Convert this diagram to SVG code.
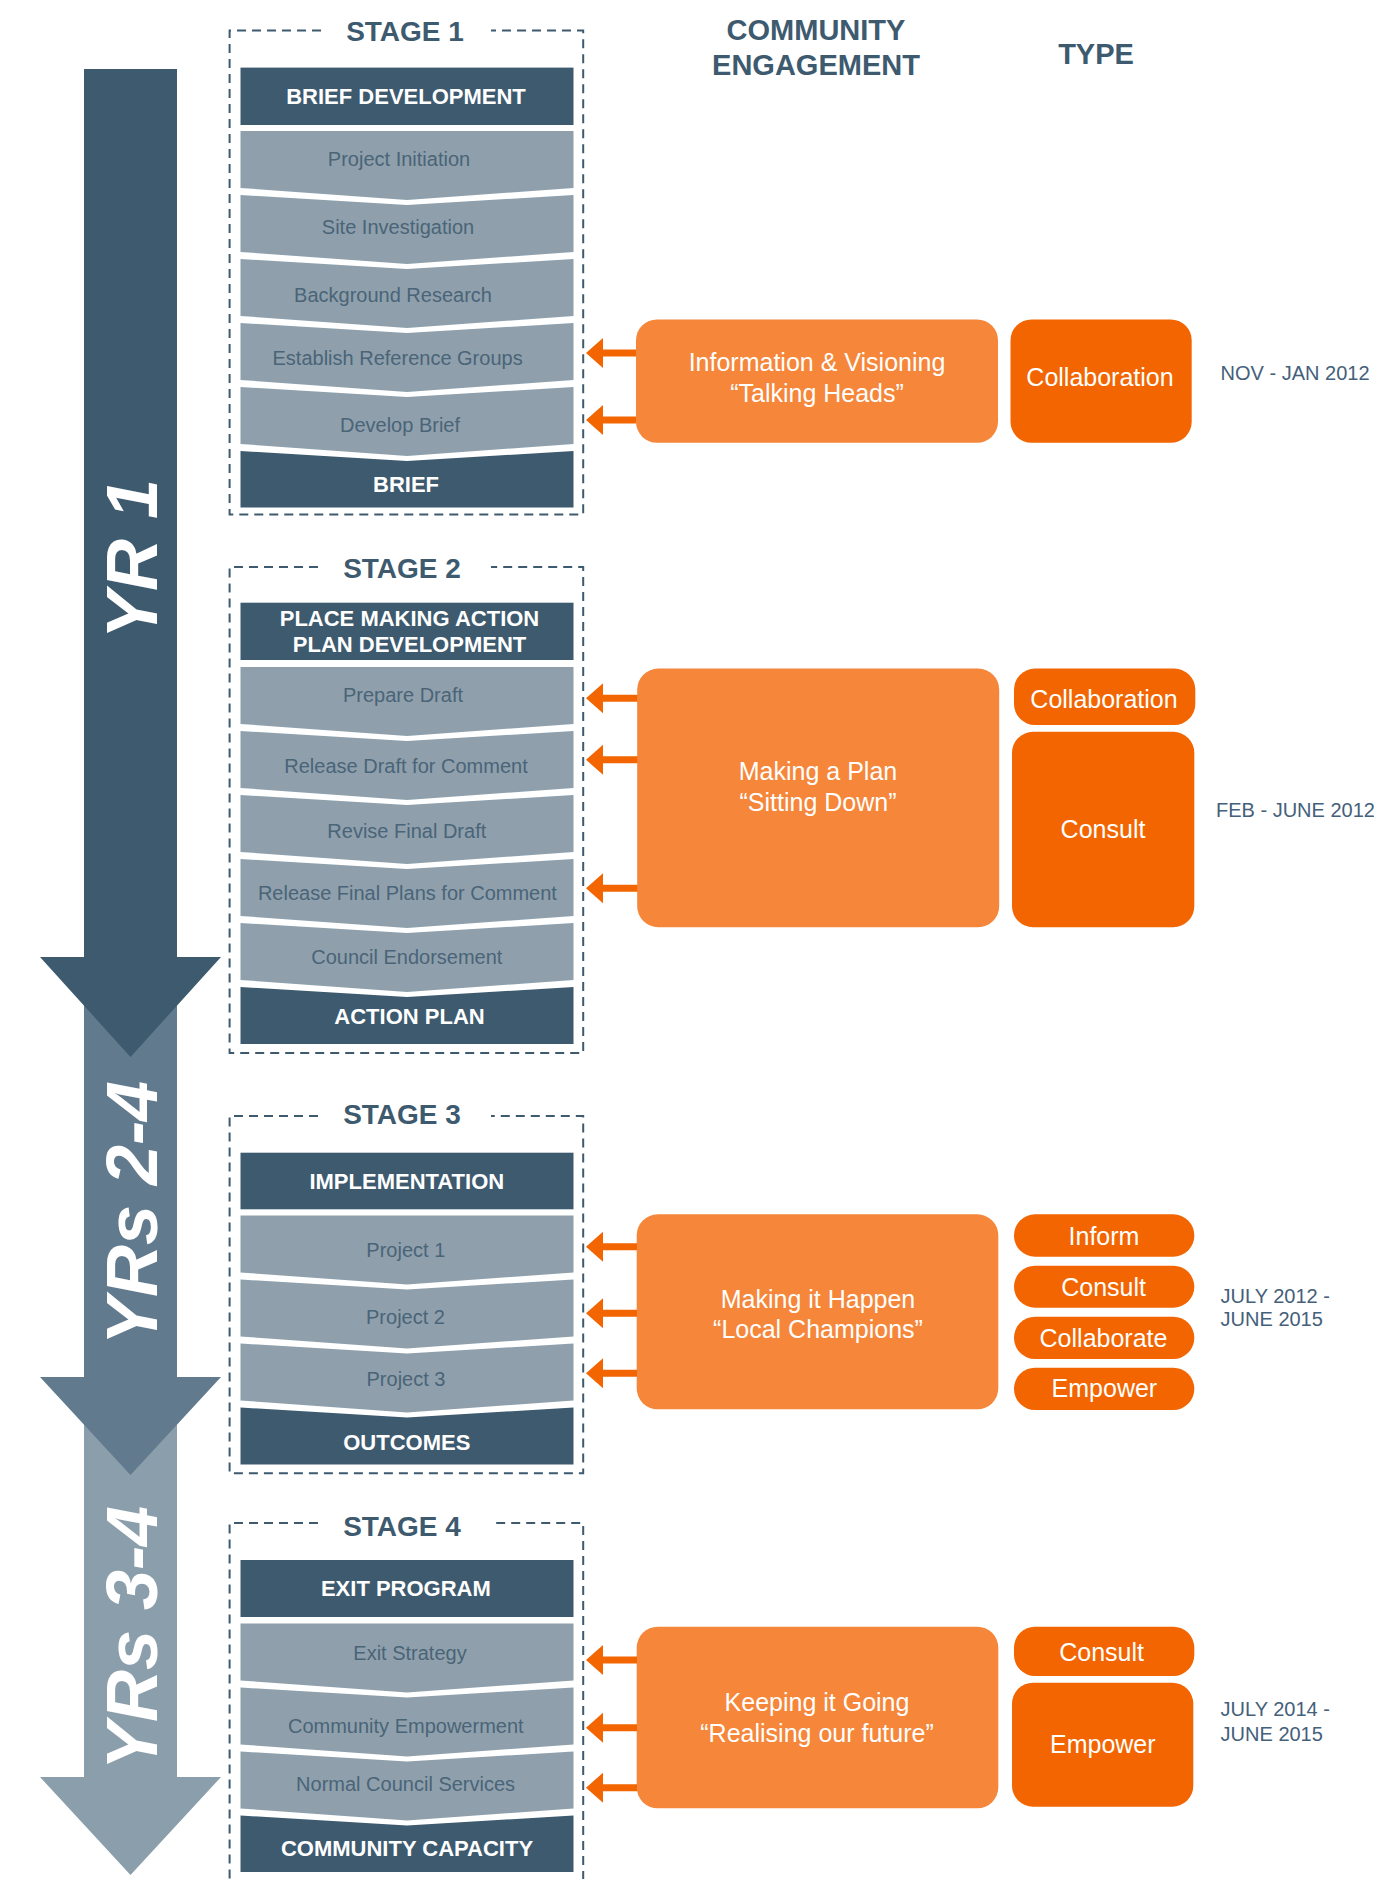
<svg xmlns="http://www.w3.org/2000/svg" width="1374" height="1879" viewBox="0 0 1374 1879">
<style>
text{font-family:"Liberation Sans",Arial,sans-serif}
.bg{fill:#ffffff}
.hd{fill:#3d5a6f}
.lt{fill:#8fa0ac}
.frame{fill:none;stroke:#3d5a6f;stroke-width:2;stroke-dasharray:9 6}
.stg{font-size:28px;font-weight:bold;fill:#3d5a6f;text-anchor:middle}
.col{font-size:29px;font-weight:bold;fill:#3d5a6f;text-anchor:middle}
.ht{font-size:22px;font-weight:bold;fill:#ffffff;text-anchor:middle}
.rt{font-size:20px;fill:#4a6478;text-anchor:middle}
.ob{fill:#f5863a}
.db{fill:#f26500}
.ot{font-size:25px;fill:#ffffff;text-anchor:middle}
.dt{font-size:20px;fill:#44607a}
.yr{font-size:72px;font-weight:bold;font-style:italic;fill:#ffffff;text-anchor:middle}
.arr{fill:#f26500}
</style>
<rect class="bg" x="0" y="0" width="1374" height="1879"/>

<g id="timeline">
<path d="M84,1420 L177,1420 L177,1777 L221,1777 L130.5,1875 L40,1777 L84,1777 Z" fill="#8b9eab"/>
<path d="M84,990 L177,990 L177,1377 L221,1377 L130.5,1475 L40,1377 L84,1377 Z" fill="#617a8d"/>
<path d="M84,69 L177,69 L177,957 L221,957 L130.5,1057 L40,957 L84,957 Z" fill="#3d5a6f"/>
<text class="yr" transform="translate(157,559) rotate(-90)">YR 1</text>
<text class="yr" transform="translate(157,1213) rotate(-90)">YRs 2-4</text>
<text class="yr" transform="translate(157,1638) rotate(-90)">YRs 3-4</text>
</g>

<g id="column-headers">
<text class="col" x="816" y="40">COMMUNITY</text>
<text class="col" x="816" y="75">ENGAGEMENT</text>
<text class="col" x="1096" y="64">TYPE</text>
</g>

<!-- STAGE 1 -->
<g id="stage1">
<path class="frame" d="M321,30.5 L229.6,30.5 L229.6,514.4 L583.2,514.4 L583.2,30.5 L491,30.5"/>
<text class="stg" x="405" y="40.6">STAGE 1</text>
<rect class="hd" x="240.5" y="67.6" width="333" height="57.4"/>
<text class="ht" x="406" y="104">BRIEF DEVELOPMENT</text>
<path class="lt" d="M240.5,131 L573.5,131 L573.5,188 L407,200 L240.5,188 Z"/>
<text class="rt" x="399" y="166">Project Initiation</text>
<path class="lt" d="M240.5,195 L407,205 L573.5,195 L573.5,252 L407,264 L240.5,252 Z"/>
<text class="rt" x="398" y="234">Site Investigation</text>
<path class="lt" d="M240.5,259 L407,269 L573.5,259 L573.5,316 L407,328 L240.5,316 Z"/>
<text class="rt" x="393" y="302">Background Research</text>
<path class="lt" d="M240.5,323 L407,333 L573.5,323 L573.5,380 L407,392 L240.5,380 Z"/>
<text class="rt" x="397.6" y="365">Establish Reference Groups</text>
<path class="lt" d="M240.5,387 L407,397 L573.5,387 L573.5,444 L407,456 L240.5,444 Z"/>
<text class="rt" x="400" y="432">Develop Brief</text>
<path class="hd" d="M240.5,451 L407,461 L573.5,451 L573.5,507.5 L240.5,507.5 Z"/>
<text class="ht" x="406" y="492">BRIEF</text>
</g>

<g id="engagement1">
<rect class="ob" x="636" y="319.4" width="362" height="123.4" rx="21" ry="21"/>
<text class="ot" x="817" y="371">Information &amp; Visioning</text>
<text class="ot" x="817" y="402">“Talking Heads”</text>
</g>
<g id="type1">
<rect class="db" x="1010.5" y="319.4" width="181.2" height="123.4" rx="21" ry="21"/>
<text class="ot" x="1100" y="386.3">Collaboration</text>
</g>
<text id="date1" class="dt" x="1220.6" y="380">NOV - JAN 2012</text>

<!-- STAGE 2 -->
<g id="stage2">
<path class="frame" d="M318,567 L229.6,567 L229.6,1053 L583.2,1053 L583.2,567 L491,567"/>
<text class="stg" x="402" y="578.3">STAGE 2</text>
<rect class="hd" x="240.5" y="602.7" width="333" height="57.3"/>
<text class="ht" x="409.5" y="626">PLACE MAKING ACTION</text>
<text class="ht" x="409.5" y="652.4">PLAN DEVELOPMENT</text>
<path class="lt" d="M240.5,667 L573.5,667 L573.5,724 L407,736 L240.5,724 Z"/>
<text class="rt" x="403" y="702.4">Prepare Draft</text>
<path class="lt" d="M240.5,731 L407,741 L573.5,731 L573.5,788 L407,800 L240.5,788 Z"/>
<text class="rt" x="406" y="772.7">Release Draft for Comment</text>
<path class="lt" d="M240.5,795 L407,805 L573.5,795 L573.5,852 L407,864 L240.5,852 Z"/>
<text class="rt" x="406.8" y="837.6">Revise Final Draft</text>
<path class="lt" d="M240.5,859 L407,869 L573.5,859 L573.5,916 L407,928 L240.5,916 Z"/>
<text class="rt" x="407.4" y="900">Release Final Plans for Comment</text>
<path class="lt" d="M240.5,923 L407,933 L573.5,923 L573.5,980 L407,992 L240.5,980 Z"/>
<text class="rt" x="406.8" y="964.3">Council Endorsement</text>
<path class="hd" d="M240.5,987 L407,997 L573.5,987 L573.5,1044 L240.5,1044 Z"/>
<text class="ht" x="409.5" y="1024.2">ACTION PLAN</text>
</g>

<g id="engagement2">
<rect class="ob" x="637.2" y="668.6" width="362" height="258.6" rx="21" ry="21"/>
<text class="ot" x="818" y="780">Making a Plan</text>
<text class="ot" x="818" y="810.5">“Sitting Down”</text>
</g>
<g id="type2a">
<rect class="db" x="1014" y="668.6" width="181.3" height="56.4" rx="21" ry="21"/>
<text class="ot" x="1104" y="707.5">Collaboration</text>
</g>
<g id="type2b">
<rect class="db" x="1012" y="731.8" width="182.3" height="195.4" rx="21" ry="21"/>
<text class="ot" x="1103" y="838">Consult</text>
</g>
<text id="date2" class="dt" x="1216" y="817.3">FEB - JUNE 2012</text>

<!-- STAGE 3 -->
<g id="stage3">
<path class="frame" d="M318,1116 L229.6,1116 L229.6,1473.3 L583.2,1473.3 L583.2,1116 L491,1116"/>
<text class="stg" x="402" y="1124">STAGE 3</text>
<rect class="hd" x="240.5" y="1152.7" width="333" height="56.6"/>
<text class="ht" x="406.8" y="1189">IMPLEMENTATION</text>
<path class="lt" d="M240.5,1215.5 L573.5,1215.5 L573.5,1272.5 L407,1284.5 L240.5,1272.5 Z"/>
<text class="rt" x="405.8" y="1257.3">Project 1</text>
<path class="lt" d="M240.5,1279.5 L407,1289.5 L573.5,1279.5 L573.5,1336.5 L407,1348.5 L240.5,1336.5 Z"/>
<text class="rt" x="405.5" y="1324">Project 2</text>
<path class="lt" d="M240.5,1343.5 L407,1353.5 L573.5,1343.5 L573.5,1400.5 L407,1412.5 L240.5,1400.5 Z"/>
<text class="rt" x="406" y="1386">Project 3</text>
<path class="hd" d="M240.5,1407.5 L407,1417.5 L573.5,1407.5 L573.5,1464.5 L240.5,1464.5 Z"/>
<text class="ht" x="406.8" y="1450">OUTCOMES</text>
</g>

<g id="engagement3">
<rect class="ob" x="636.7" y="1214.3" width="361.6" height="195" rx="21" ry="21"/>
<text class="ot" x="818" y="1308">Making it Happen</text>
<text class="ot" x="818" y="1338">“Local Champions”</text>
</g>
<g id="type3a">
<rect class="db" x="1014" y="1214.3" width="180.3" height="42.4" rx="21" ry="21"/>
<text class="ot" x="1104" y="1245">Inform</text>
</g>
<g id="type3b">
<rect class="db" x="1014" y="1265.7" width="180.3" height="42" rx="21" ry="21"/>
<text class="ot" x="1103.6" y="1296">Consult</text>
</g>
<g id="type3c">
<rect class="db" x="1014" y="1316.7" width="180.3" height="42.3" rx="21" ry="21"/>
<text class="ot" x="1103.5" y="1347">Collaborate</text>
</g>
<g id="type3d">
<rect class="db" x="1014" y="1367.7" width="180.3" height="42.3" rx="21" ry="21"/>
<text class="ot" x="1104.4" y="1397">Empower</text>
</g>
<g id="date3">
<text class="dt" x="1220.6" y="1302.7">JULY 2012 -</text>
<text class="dt" x="1220.6" y="1326">JUNE 2015</text>
</g>

<!-- STAGE 4 -->
<g id="stage4">
<path class="frame" d="M318,1523 L229.6,1523 L229.6,1895 M583.2,1895 L583.2,1523 L491,1523"/>
<text class="stg" x="402" y="1536">STAGE 4</text>
<rect class="hd" x="240.5" y="1560" width="333" height="57"/>
<text class="ht" x="405.9" y="1596">EXIT PROGRAM</text>
<path class="lt" d="M240.5,1623.5 L573.5,1623.5 L573.5,1680.5 L407,1692.5 L240.5,1680.5 Z"/>
<text class="rt" x="410" y="1660">Exit Strategy</text>
<path class="lt" d="M240.5,1687.5 L407,1697.5 L573.5,1687.5 L573.5,1744.5 L407,1756.5 L240.5,1744.5 Z"/>
<text class="rt" x="405.8" y="1732.7">Community Empowerment</text>
<path class="lt" d="M240.5,1751.5 L407,1761.5 L573.5,1751.5 L573.5,1808.5 L407,1820.5 L240.5,1808.5 Z"/>
<text class="rt" x="405.6" y="1790.7">Normal Council Services</text>
<path class="hd" d="M240.5,1815.5 L407,1825.5 L573.5,1815.5 L573.5,1872 L240.5,1872 Z"/>
<text class="ht" x="407" y="1855.7">COMMUNITY CAPACITY</text>
</g>

<g id="engagement4">
<rect class="ob" x="636.7" y="1626.7" width="361.6" height="181.6" rx="21" ry="21"/>
<text class="ot" x="817" y="1711">Keeping it Going</text>
<text class="ot" x="817" y="1741.7">“Realising our future”</text>
</g>
<g id="type4a">
<rect class="db" x="1014" y="1626.7" width="180.3" height="49.3" rx="21" ry="21"/>
<text class="ot" x="1101.6" y="1661">Consult</text>
</g>
<g id="type4b">
<rect class="db" x="1012" y="1682.7" width="181.3" height="124" rx="21" ry="21"/>
<text class="ot" x="1102.8" y="1753.3">Empower</text>
</g>
<g id="date4">
<text class="dt" x="1220.6" y="1716">JULY 2014 -</text>
<text class="dt" x="1220.6" y="1740.7">JUNE 2015</text>
</g>

<g id="connectors">
<path class="arr" d="M586,353 L603,338 L603,349.5 L636,349.5 L636,356.5 L603,356.5 L603,368 Z"/>
<path class="arr" d="M586,420 L603,405 L603,416.5 L636,416.5 L636,423.5 L603,423.5 L603,435 Z"/>
<path class="arr" d="M586,698.3 L603,683.3 L603,694.8 L637.5,694.8 L637.5,701.8 L603,701.8 L603,713.3 Z"/>
<path class="arr" d="M586,759.8 L603,744.8 L603,756.3 L637.5,756.3 L637.5,763.3 L603,763.3 L603,774.8 Z"/>
<path class="arr" d="M586,888.3 L603,873.3 L603,884.8 L637.5,884.8 L637.5,891.8 L603,891.8 L603,903.3 Z"/>
<path class="arr" d="M586,1246.7 L603,1231.7 L603,1243.2 L637,1243.2 L637,1250.2 L603,1250.2 L603,1261.7 Z"/>
<path class="arr" d="M586,1313.3 L603,1298.3 L603,1309.8 L637,1309.8 L637,1316.8 L603,1316.8 L603,1328.3 Z"/>
<path class="arr" d="M586,1373.3 L603,1358.3 L603,1369.8 L637,1369.8 L637,1376.8 L603,1376.8 L603,1388.3 Z"/>
<path class="arr" d="M586,1660 L603,1645 L603,1656.5 L637,1656.5 L637,1663.5 L603,1663.5 L603,1675 Z"/>
<path class="arr" d="M586,1727.7 L603,1712.7 L603,1724.2 L637,1724.2 L637,1731.2 L603,1731.2 L603,1742.7 Z"/>
<path class="arr" d="M586,1787.7 L603,1772.7 L603,1784.2 L637,1784.2 L637,1791.2 L603,1791.2 L603,1802.7 Z"/>
</g>
</svg>
